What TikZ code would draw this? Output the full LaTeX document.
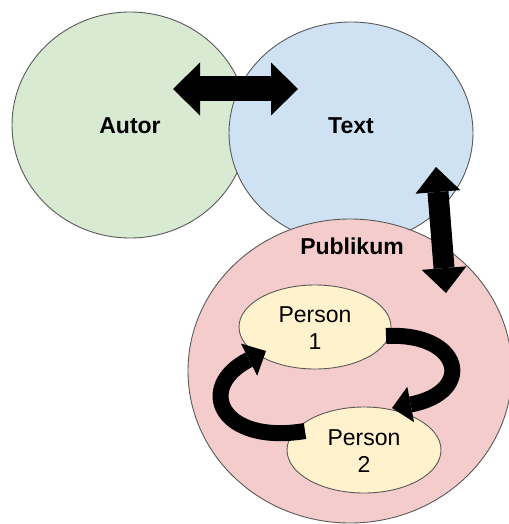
\documentclass[tikz,border=0pt]{standalone}
\usepackage{fontspec}
\setmainfont{Liberation Sans}
\usetikzlibrary{shapes.geometric,arrows.meta}
\definecolor{autorfill}{HTML}{D9EAD3}
\definecolor{textfill}{HTML}{CFE2F3}
\definecolor{publfill}{HTML}{F4CCCC}
\definecolor{persfill}{HTML}{FFF2CC}
\definecolor{edgegray}{HTML}{595959}
\begin{document}
\begin{tikzpicture}[x=1pt,y=-1pt,
  blob/.style={ellipse,draw=edgegray,line width=0.9pt,inner sep=0pt},
  boldlbl/.style={font=\fontsize{23}{27}\selectfont\bfseries,inner sep=0pt},
  perslbl/.style={font=\fontsize{23}{27}\selectfont,align=center},
  fatarrow/.style={draw=black,line width=#1},
]
\useasboundingbox (0,0) rectangle (508,524);
\node[blob,fill=autorfill,minimum width=236pt,minimum height=226pt] (autor) at (130,125) {};
\node[blob,fill=textfill,minimum width=244pt,minimum height=222pt] (text) at (351,133) {};
\node[blob,fill=publfill,minimum width=324pt,minimum height=304pt] (publikum) at (350,371) {};
\node[blob,fill=persfill,minimum width=152pt,minimum height=84pt] (p1) at (315,327) {};
\node[blob,fill=persfill,minimum width=154pt,minimum height=86pt] (p2) at (364,450) {};
\node[boldlbl] (autorlbl) at (130,126) {Autor};
\node[boldlbl] (textlbl) at (351,126) {Text};
\node[boldlbl] (publlbl) at (352,246) {Publikum};
\node[perslbl] (p1lbl) at (315,328) {Person\\1};
\node[perslbl] (p2lbl) at (364,451) {Person\\2};
% arrows
\coordinate (ha) at (173,89);
\coordinate (hb) at (298,89);
\draw[fatarrow=25pt,{Triangle[width=53pt,length=27pt,line width=0pt]}-{Triangle[width=53pt,length=27pt,line width=0pt]}] (ha) -- (hb);
\coordinate (va) at (436,167);
\coordinate (vb) at (446,293);
\draw[fatarrow=21pt,{Triangle[width=45pt,length=25pt,line width=0pt]}-{Triangle[width=45pt,length=25pt,line width=0pt]}] (va) -- (vb);
\coordinate (c1s) at (386,336);
\coordinate (c1e) at (392,408);
\draw[fatarrow=16pt,-{Triangle[width=36pt,length=19pt,line width=0pt]}] (c1s) .. controls (462,332) and (476,392) .. (c1e);
\coordinate (c2s) at (305,431);
\coordinate (c2e) at (266,351);
\draw[fatarrow=16pt,-{Triangle[width=36pt,length=19pt,line width=0pt]}] (c2s) .. controls (220,445) and (195,387) .. (c2e);
\end{tikzpicture}
\end{document}
